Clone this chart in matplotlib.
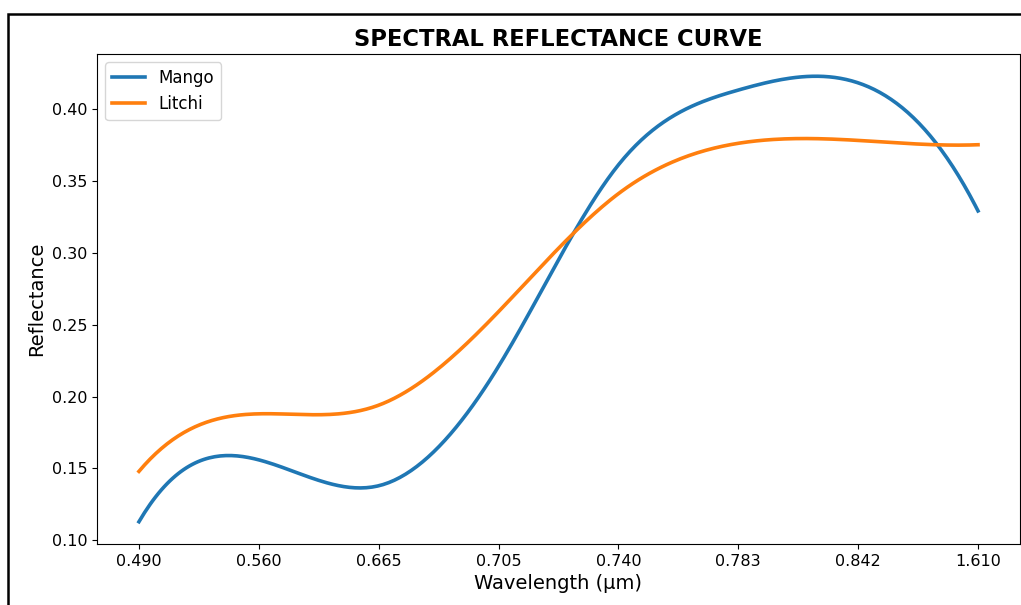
import numpy as np
import matplotlib
matplotlib.use("Agg")
import matplotlib.pyplot as plt
from matplotlib.patches import Rectangle

# band centres (micrometres), shown as evenly spaced categories
wavelengths = ["0.490", "0.560", "0.665", "0.705", "0.740", "0.783", "0.842", "1.610"]
mango = [0.113, 0.156, 0.138, 0.221, 0.361, 0.413, 0.418, 0.329]
litchi = [0.148, 0.188, 0.194, 0.259, 0.341, 0.376, 0.378, 0.375]


def smooth(y, n=300):
    # cubic spline (not-a-knot) through the points, unit spacing
    y = np.asarray(y, dtype=float)
    m = len(y)
    A = np.zeros((m, m))
    b = np.zeros(m)
    A[0, :3] = [1, -2, 1]
    A[-1, -3:] = [1, -2, 1]
    for i in range(1, m - 1):
        A[i, i - 1:i + 2] = [1, 4, 1]
        b[i] = 6 * (y[i + 1] - 2 * y[i] + y[i - 1])
    M = np.linalg.solve(A, b)
    xs = np.linspace(0, m - 1, n)
    ys = np.empty(n)
    for k, x in enumerate(xs):
        i = min(int(np.floor(x)), m - 2)
        t = x - i
        ys[k] = (M[i] * (1 - t) ** 3 / 6 + M[i + 1] * t ** 3 / 6
                 + (y[i] - M[i] / 6) * (1 - t) + (y[i + 1] - M[i + 1] / 6) * t)
    return xs, ys


fig = plt.figure(figsize=(10.21, 6.05), dpi=100)
ax = fig.add_axes([0.095, 0.1008, 0.904, 0.81])

x = np.arange(len(wavelengths))
xs, ys = smooth(mango)
ax.plot(xs, ys, color="#1f77b4", linewidth=2.6, label="Mango")
xs, ys = smooth(litchi)
ax.plot(xs, ys, color="#ff7f0e", linewidth=2.6, label="Litchi")

ax.set_xticks(x)
ax.set_xticklabels(wavelengths)
ax.tick_params(labelsize=11.5)
ax.set_xlabel("Wavelength (µm)", fontsize=14)
ax.set_ylabel("Reflectance", fontsize=14)
ax.set_title("SPECTRAL REFLECTANCE CURVE", fontsize=16.3, fontweight="bold")
ax.legend(loc="upper left", fontsize=12)

# black frame of the original figure (cropped at right and bottom)
fig.patches.append(Rectangle((8 / 1021, -0.1), 1.2, 1.1 - 14 / 605,
                             transform=fig.transFigure, fill=False,
                             edgecolor="black", linewidth=1.8))

fig.savefig("out.png", dpi=100)
